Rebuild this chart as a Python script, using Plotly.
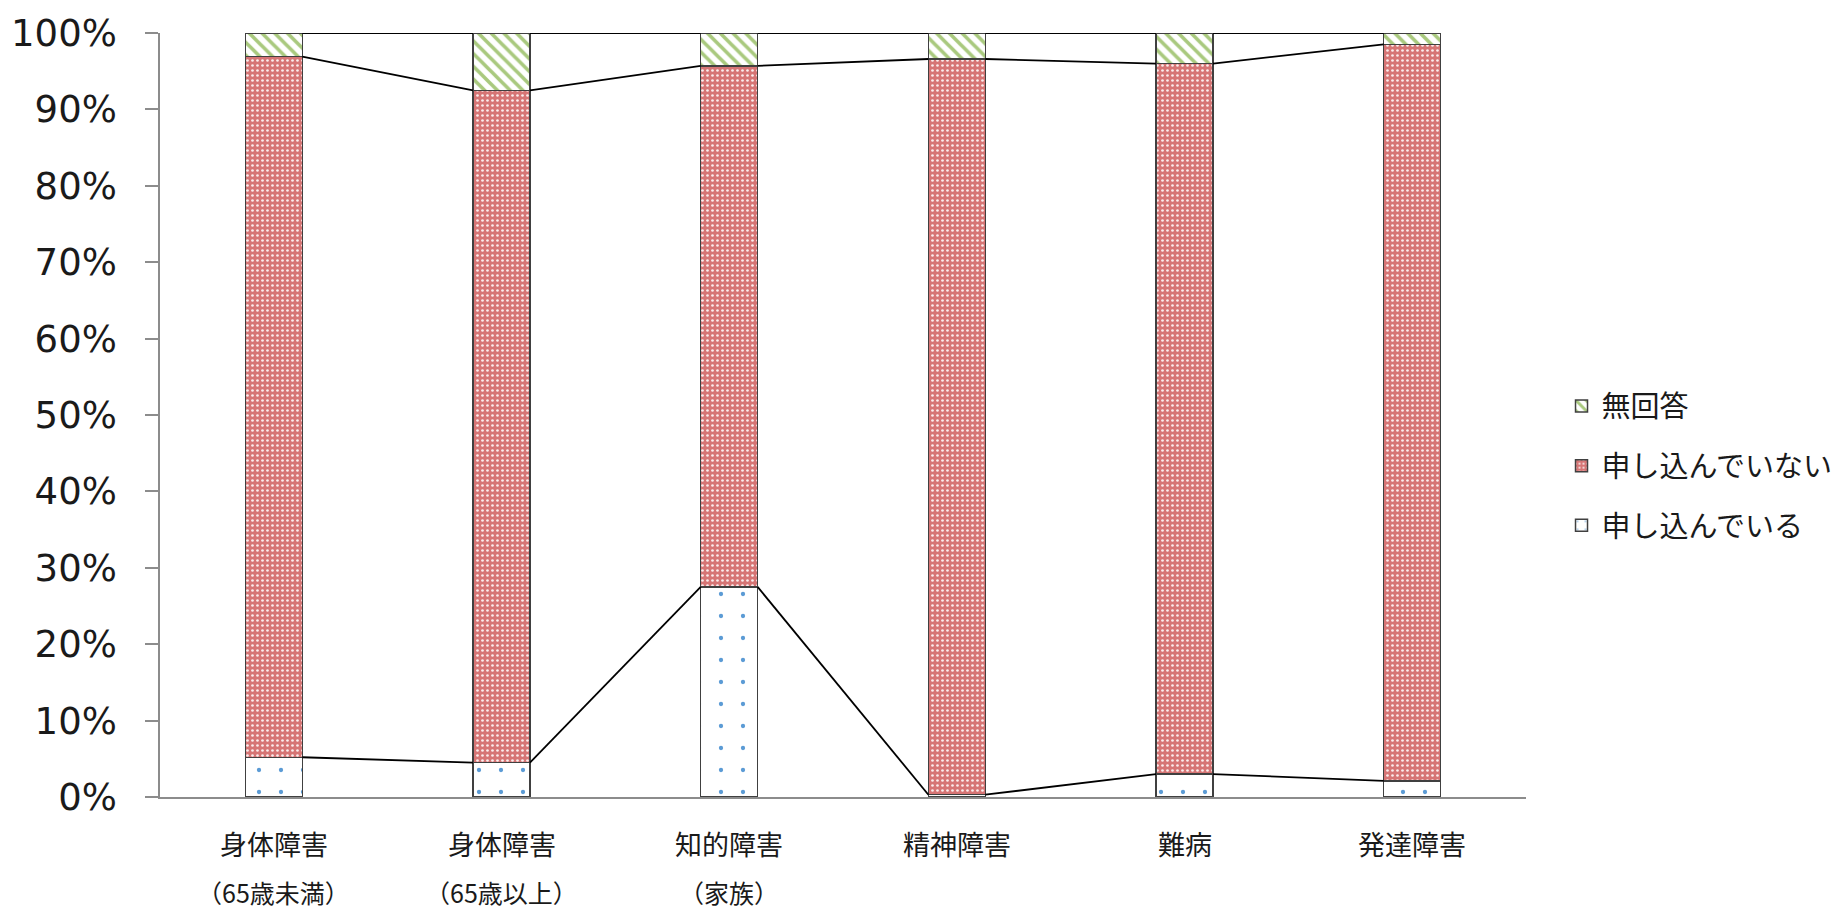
import plotly.graph_objects as go

# ---- data ----
cat_line1 = ["身体障害", "身体障害", "知的障害", "精神障害", "難病", "発達障害"]
cat_line2 = ["（65歳未満）", "（65歳以上）", "（家族）", "", "", ""]
applied = [5.2, 4.5, 27.5, 0.3, 3.0, 2.1]          # 申し込んでいる
not_applied = [91.7, 88.0, 68.2, 96.3, 93.0, 96.4]  # 申し込んでいない
no_answer = [3.1, 7.5, 4.3, 3.4, 4.0, 1.5]          # 無回答
series_names = ["申し込んでいる", "申し込んでいない", "無回答"]
legend_rank = [3, 2, 1]
y_ticks = [0, 10, 20, 30, 40, 50, 60, 70, 80, 90, 100]

JP = "Noto Sans CJK JP"
BAR_W = 0.25
OUTLINE = "#404040"

x_pos = list(range(len(cat_line1)))

fig = go.Figure()

patterns = [
    dict(shape=".", fgcolor="#5B9BD5", bgcolor="#FFFFFF", size=22, solidity=0.03, fillmode="replace"),
    dict(shape=".", fgcolor="#FBEDED", bgcolor="#D67575", size=5, solidity=0.22, fillmode="replace"),
    dict(shape="\\", fgcolor="#A9C97E", bgcolor="#FFFFFF", size=9, solidity=0.4, fillmode="replace"),
]
values = [applied, not_applied, no_answer]

for name, vals, pat, rk in zip(series_names, values, patterns, legend_rank):
    fig.add_trace(go.Bar(
        x=x_pos, y=vals, name=name, width=BAR_W,
        marker=dict(color=pat["bgcolor"], pattern=pat,
                    line=dict(color=OUTLINE, width=1.5)),
        legendgroup=name, legendrank=rk,
        hoverinfo="skip",
    ))

# series lines (connect stacked boundaries between adjacent bars)
cum1 = applied
cum2 = [a + b for a, b in zip(applied, not_applied)]
cum3 = [a + b + c for a, b, c in zip(applied, not_applied, no_answer)]
for cum in (cum1, cum2, cum3):
    xs, ys = [], []
    for i in range(len(cum) - 1):
        xs += [x_pos[i] + BAR_W / 2, x_pos[i + 1] - BAR_W / 2, None]
        ys += [cum[i], cum[i + 1], None]
    fig.add_trace(go.Scatter(x=xs, y=ys, mode="lines",
                             line=dict(color="#000000", width=1.8),
                             showlegend=False, hoverinfo="skip"))

# category labels (two lines)
for i, (l1, l2) in enumerate(zip(cat_line1, cat_line2)):
    fig.add_annotation(x=x_pos[i], xref="x", y=0, yref="paper", yshift=-46,
                       text=l1, showarrow=False, yanchor="middle",
                       font=dict(family=JP, size=27, color="#1a1a1a"))
    if l2:
        fig.add_annotation(x=x_pos[i], xref="x", y=0, yref="paper", yshift=-95,
                           text=l2, showarrow=False, yanchor="middle",
                           font=dict(family=JP, size=25, color="#1a1a1a"))

fig.update_layout(
    width=1841, height=913,
    autosize=False,
    margin=dict(l=160, r=315, t=33, b=116, autoexpand=False),
    barmode="stack",
    plot_bgcolor="white", paper_bgcolor="white",
    showlegend=True,
    legend=dict(
        x=1.026, xanchor="left", y=0.545, yanchor="top",
        traceorder="grouped", tracegroupgap=19,
        font=dict(family=JP, size=29, color="#1a1a1a"),
        bgcolor="rgba(0,0,0,0)",
    ),
    xaxis=dict(
        range=[-0.5, len(cat_line1) - 0.5], automargin=False,
        showticklabels=False, ticks="", showgrid=False, zeroline=False,
        showline=True, linecolor="#8C8C8C", linewidth=1.5,
    ),
    yaxis=dict(
        range=[0, 100], tickvals=y_ticks, automargin=False,
        ticktext=[f"{v}%" for v in y_ticks],
        ticks="outside", ticklen=13, tickcolor="#8C8C8C", tickwidth=1.5,
        showline=True, linecolor="#8C8C8C", linewidth=1.5,
        showgrid=False, zeroline=False,
        ticklabelstandoff=21,
        tickfont=dict(family="DejaVu Sans", size=37, color="#1a1a1a"),
    ),
)

fig.write_html(
    "out.html",
    config={"displayModeBar": False},
    post_script="document.body.style.margin='0';document.body.style.overflow='hidden';",
)
